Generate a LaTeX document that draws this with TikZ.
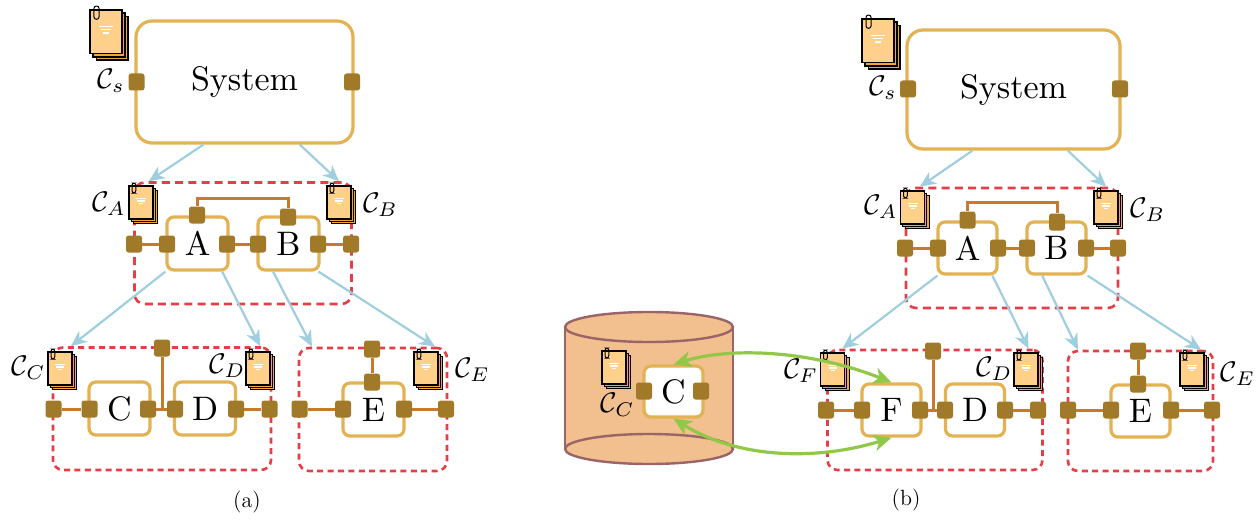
\documentclass[tikz,border=0pt]{standalone}
\usepackage{graphicx}
\usetikzlibrary{arrows.meta,calc}
\definecolor{gold}{HTML}{E3B253}
\definecolor{portc}{HTML}{A07A28}
\definecolor{wirec}{HTML}{C87A2C}
\definecolor{redc}{HTML}{E63E46}
\definecolor{bluec}{HTML}{9FCFDF}
\definecolor{greenc}{HTML}{92C847}
\definecolor{cylf}{HTML}{F2BF8E}
\definecolor{cyld}{HTML}{9A6468}
\definecolor{pagef}{HTML}{FFD08A}
\definecolor{pageb}{HTML}{F4A63C}
\newcommand{\bigtxt}[1]{\scalebox{1.7}{#1}}
\newcommand{\mathtxt}[1]{\scalebox{1.42}{$\mathcal{C}_{#1}$}}
\tikzset{
  sysbox/.style={draw=gold,line width=1.6pt,rounded corners=8pt,inner sep=0pt,fill=white},
  compbox/.style={draw=gold,line width=1.6pt,rounded corners=3.5pt,inner sep=0pt,fill=white},
  portbox/.style={fill=portc,rounded corners=1.3pt,minimum width=8pt,minimum height=8.5pt,inner sep=0pt},
  redbox/.style={draw=redc,line width=1.3pt,rounded corners=5pt,inner sep=0pt,dash pattern=on 3pt off 2.2pt},
  redboxlong/.style={draw=redc,line width=1.3pt,rounded corners=5pt,inner sep=0pt,dash pattern=on 4pt off 2.6pt},
  wire/.style={draw=wirec,line width=1.5pt},
  flowarrow/.style={draw=bluec,line width=1.1pt,-{Stealth[length=8pt,width=7pt,inset=2.5pt]}},
  swaparrow/.style={draw=greenc,line width=1.6pt,{Stealth[length=9pt,width=8pt,inset=2.5pt]}-{Stealth[length=9pt,width=8pt,inset=2.5pt]}},
  lab/.style={inner sep=0pt},
  capt/.style={inner sep=0pt,font=\fontsize{11}{13}\selectfont},
}
\newcommand{\docstack}[3]{%
  \begin{scope}[shift={(#1,#2)},scale=#3,line width=0.6pt]
    \draw[fill=pageb] (4.6,4.6) rectangle (28.6,37.6);
    \draw[fill=pageb] (2.3,2.3) rectangle (26.3,35.3);
    \draw[fill=pagef] (0,0) rectangle (24,33);
    \draw[line width=0.5pt,rounded corners=1.2pt] (3,7) rectangle (6.8,-3);
    \draw[white,line width=0.75pt] (7,12.3) -- (17,12.3) (8,14.8) -- (16,14.8) (10,17.3) -- (14,17.3);
  \end{scope}}
\begin{document}
\begin{tikzpicture}[x=0.5pt,y=-0.5pt]
\useasboundingbox (0,0) rectangle (1256,519);
% ---------- panel a ----------
\node[redboxlong,minimum width=108.5pt,minimum height=60.75pt] (rAB) at (243,243.25) {};
\node[redbox,minimum width=109pt,minimum height=61.25pt] (rCD) at (162,408.75) {};
\node[redbox,minimum width=74pt,minimum height=61.5pt] (rE) at (373,409.5) {};
\node[sysbox,minimum width=108.5pt,minimum height=61pt] (sys) at (244.5,82) {\bigtxt{System}};
\node[compbox,minimum width=30.5pt,minimum height=26.5pt] (A) at (197.5,243.5) {\bigtxt{A}};
\node[compbox,minimum width=30.5pt,minimum height=26.5pt] (B) at (288.5,243.5) {\bigtxt{B}};
\node[compbox,minimum width=30.5pt,minimum height=26.5pt] (C) at (119.5,408.5) {\bigtxt{C}};
\node[compbox,minimum width=30.5pt,minimum height=26.5pt] (D) at (205,408.5) {\bigtxt{D}};
\node[compbox,minimum width=30.5pt,minimum height=26.5pt] (E) at (373.5,409.5) {\bigtxt{E}};
\draw[flowarrow] ($(sys.south west)!.313!(sys.south east)$) -- ($(rAB.north west)!.071!(rAB.north east)$);
\draw[flowarrow] ($(sys.south west)!.751!(sys.south east)$) -- ($(rAB.north west)!.937!(rAB.north east)$);
\draw[flowarrow] (A.south west) -- ($(rCD.north west)!.087!(rCD.north east)$);
\draw[flowarrow] ($(A.south west)!.885!(A.south east)$) -- ($(rCD.north west)!.945!(rCD.north east)$);
\draw[flowarrow] ($(B.south west)!.26!(B.south east)$) -- ($(rE.north west)!.095!(rE.north east)$);
\draw[flowarrow] ($(B.south west)!.967!(B.south east)$) -- ($(rE.north west)!.912!(rE.north east)$);
% ports
\node[portbox] (sL) at (136.5,82) {};
\node[portbox] (sR) at (352,82) {};
\node[portbox] (ABo1) at (134,244) {};
\node[portbox] (Al) at (167,244) {};
\node[portbox] (Ar) at (227,244) {};
\node[portbox] (Bl) at (258,244) {};
\node[portbox] (Br) at (318,244) {};
\node[portbox] (ABo2) at (351,244) {};
\node[portbox] (At) at (197,215) {};
\node[portbox] (Bt) at (288,217) {};
\node[portbox] (CDo1) at (53.5,409) {};
\node[portbox] (Cl) at (89.5,409) {};
\node[portbox] (Cr) at (148,409) {};
\node[portbox] (Dl) at (175,409) {};
\node[portbox] (Dr) at (236,409) {};
\node[portbox] (CDo2) at (269.5,409) {};
\node[portbox] (CDt) at (162,348) {};
\node[portbox] (Eo1) at (299.5,409) {};
\node[portbox] (El) at (343,409) {};
\node[portbox] (Er) at (404,409) {};
\node[portbox] (Eo2) at (446,409) {};
\node[portbox] (Et) at (372,382) {};
\node[portbox] (Eo3) at (372,349) {};
\coordinate (CDj) at (162,409);
\coordinate (ABj) at (243,198);
\draw[wire] (ABo1) -- (Al);
\draw[wire] (Ar) -- (Bl);
\draw[wire] (Br) -- (ABo2);
\draw[wire] (At.north) |- (ABj) -| (Bt.north);
\draw[wire] (CDo1) -- (Cl);
\draw[wire] (Cr) -- (Dl);
\draw[wire] (CDt) -- (CDj);
\draw[wire] (Dr) -- (CDo2);
\draw[wire] (Eo1) -- (El);
\draw[wire] (Er) -- (Eo2);
\draw[wire] (Eo3) -- (Et);
\docstack{90}{10}{1.33}
\docstack{129}{186}{1}
\docstack{327}{186}{1}
\docstack{48}{352}{1}
\docstack{246}{352}{1}
\docstack{414}{352}{1}
\node[lab] (lCs) at (111,81) {\mathtxt{s}};
\node[lab] (lCA) at (109,204) {\mathtxt{A}};
\node[lab] (lCB) at (380.5,205) {\mathtxt{B}};
\node[lab] (lCC) at (28.5,368) {\mathtxt{C}};
\node[lab] (lCD) at (227.5,366) {\mathtxt{D}};
\node[lab] (lCE) at (472.5,370) {\mathtxt{E}};
\node[capt] (capa) at (247,502) {(a)};
% ---------- panel b ----------
\node[redboxlong,minimum width=106pt,minimum height=60pt] (rAB2) at (1012,248) {};
\node[redbox,minimum width=107.5pt,minimum height=60pt] (rFD) at (935,410) {};
\node[redbox,minimum width=72.5pt,minimum height=60pt] (rE2) at (1140.5,411) {};
\node[sysbox,minimum width=106.5pt,minimum height=59.5pt] (sys2) at (1013.5,89.5) {\bigtxt{System}};
\node[compbox,minimum width=29.5pt,minimum height=26pt] (A2) at (967.5,248) {\bigtxt{A}};
\node[compbox,minimum width=29.5pt,minimum height=26pt] (B2) at (1056.5,248) {\bigtxt{B}};
\node[compbox,minimum width=29.5pt,minimum height=26pt] (F) at (891.5,410) {\bigtxt{F}};
\node[compbox,minimum width=29.5pt,minimum height=26pt] (D2) at (975,410) {\bigtxt{D}};
\node[compbox,minimum width=29.5pt,minimum height=26pt] (E2) at (1140.5,411) {\bigtxt{E}};
\draw[flowarrow] ($(sys2.south west)!.31!(sys2.south east)$) -- ($(rAB2.north west)!.071!(rAB2.north east)$);
\draw[flowarrow] ($(sys2.south west)!.751!(sys2.south east)$) -- ($(rAB2.north west)!.939!(rAB2.north east)$);
\draw[flowarrow] ($(A2.south west)!.017!(A2.south east)$) -- ($(rFD.north west)!.074!(rFD.north east)$);
\draw[flowarrow] ($(A2.south west)!.9!(A2.south east)$) -- ($(rFD.north west)!.93!(rFD.north east)$);
\draw[flowarrow] ($(B2.south west)!.27!(B2.south east)$) -- ($(rE2.north west)!.076!(rE2.north east)$);
\draw[flowarrow] (B2.south east) -- ($(rE2.north west)!.91!(rE2.north east)$);
\node[portbox] (s2L) at (908,89) {};
\node[portbox] (s2R) at (1120,89) {};
\node[portbox] (AB2o1) at (905,248) {};
\node[portbox] (A2l) at (938,248) {};
\node[portbox] (A2r) at (998,248) {};
\node[portbox] (B2l) at (1027,248) {};
\node[portbox] (B2r) at (1086,248) {};
\node[portbox] (AB2o2) at (1118,248) {};
\node[portbox] (A2t) at (967.5,220) {};
\node[portbox] (B2t) at (1057,222) {};
\node[portbox] (FDo1) at (826,410) {};
\node[portbox] (Fl) at (862,410) {};
\node[portbox] (Fr) at (920,410) {};
\node[portbox] (D2l) at (945,410) {};
\node[portbox] (D2r) at (1005,410) {};
\node[portbox] (FDo2) at (1038,410) {};
\node[portbox] (FDt) at (933,351) {};
\node[portbox] (E2o1) at (1068,410) {};
\node[portbox] (E2l) at (1111,410) {};
\node[portbox] (E2r) at (1171,410) {};
\node[portbox] (E2o2) at (1212,410) {};
\node[portbox] (E2t) at (1138,384) {};
\node[portbox] (E2o3) at (1138,351) {};
\coordinate (FDj) at (933,410);
\coordinate (AB2j) at (1012,202);
\draw[wire] (AB2o1) -- (A2l);
\draw[wire] (A2r) -- (B2l);
\draw[wire] (B2r) -- (AB2o2);
\draw[wire] (A2t.north) |- (AB2j) -| (B2t.north);
\draw[wire] (FDo1) -- (Fl);
\draw[wire] (Fr) -- (D2l);
\draw[wire] (FDt) -- (FDj);
\draw[wire] (D2r) -- (FDo2);
\draw[wire] (E2o1) -- (E2l);
\draw[wire] (E2r) -- (E2o2);
\draw[wire] (E2o3) -- (E2t);
\docstack{862}{19}{1.33}
\docstack{900.5}{191}{1}
\docstack{1094}{191}{1}
\docstack{820.5}{353}{1}
\docstack{1014}{353}{1}
\docstack{1180}{353}{1}
% cylinder
\fill[cylf] (565,327) rectangle (733,449);
\draw[cyld,line width=1.2pt] (565,327) -- (565,449) (733,327) -- (733,449);
\draw[cyld,line width=1.2pt,fill=cylf] (649,449) ellipse [x radius=42pt,y radius=7.5pt];
\draw[cyld,line width=1.2pt,fill=cylf] (649,327) ellipse [x radius=42pt,y radius=7.5pt];
\node[compbox,minimum width=29.5pt,minimum height=25.5pt] (Cc) at (673.5,391.5) {\bigtxt{C}};
\node[portbox] (CcL) at (644,391) {};
\node[portbox] (CcR) at (701,391) {};
\docstack{602}{351}{1}
\node[lab] (lCC2) at (617.5,405) {\mathtxt{C}};
\node[lab] (lCs2) at (883,88) {\mathtxt{s}};
\node[lab] (lCA2) at (881,207) {\mathtxt{A}};
\node[lab] (lCB2) at (1148,210) {\mathtxt{B}};
\node[lab] (lCF) at (801,371) {\mathtxt{F}};
\node[lab] (lCD2) at (994.5,369) {\mathtxt{D}};
\node[lab] (lCE2) at (1238,374) {\mathtxt{E}};
\node[capt] (capb) at (906,500) {(b)};
\draw[swaparrow] (Cc.north) .. controls (730,347) and (810,350) .. (F.north);
\draw[swaparrow] (Cc.south) .. controls (740,460) and (820,460) .. (F.south);
\end{tikzpicture}
\end{document}
